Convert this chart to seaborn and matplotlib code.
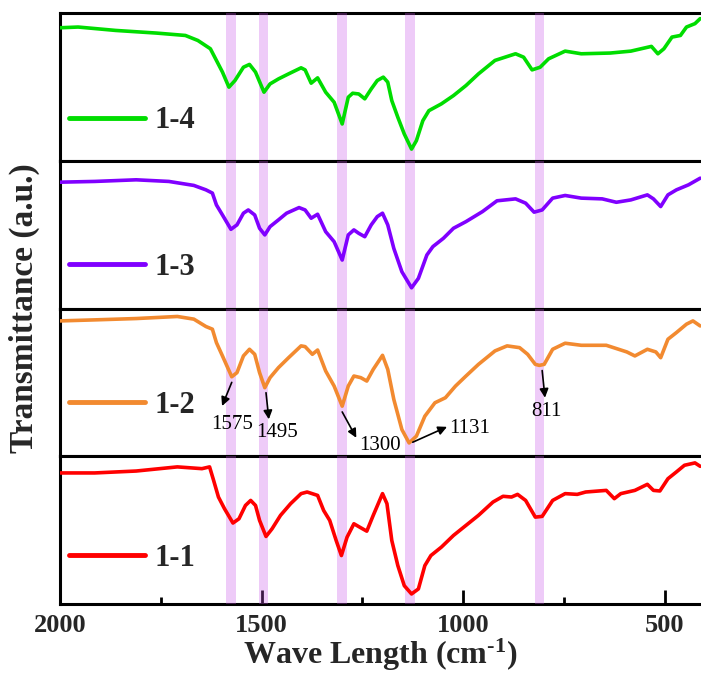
import matplotlib
matplotlib.use("Agg")
import matplotlib.pyplot as plt
from matplotlib.ticker import MultipleLocator
import pandas as pd
import seaborn as sns

# FTIR spectra, wavenumber (cm-1) vs transmittance (a.u., 0-100 inside each panel)
wn_14 = [2000, 1955, 1862, 1760, 1689, 1658, 1627, 1612, 1597, 1581, 1566, 1545, 1530, 1515,
         1494, 1479, 1458, 1433, 1402, 1392, 1377, 1361, 1341, 1320, 1300, 1285, 1274, 1259,
         1244, 1228, 1213, 1198, 1187, 1177, 1162, 1146, 1128, 1116, 1100, 1085, 1054, 1024,
         993, 962, 921, 870, 850, 829, 809, 788, 747, 707, 635, 584, 533, 517, 502, 482, 461,
         446, 425, 412]
t_14 = [90.0, 90.5, 88.2, 86.4, 84.8, 81.4, 75.8, 67.9, 60.0, 49.8, 54.3, 63.3, 65.2, 60.0,
        46.4, 52.0, 55.4, 58.8, 62.9, 61.5, 52.5, 56.1, 46.4, 39.6, 24.9, 43.0, 45.7, 45.2,
        41.9, 48.6, 54.3, 56.6, 53.2, 40.7, 29.4, 18.1, 7.9, 13.6, 27.1, 33.9, 38.5, 44.1,
        50.9, 58.8, 67.9, 72.4, 70.1, 61.5, 63.3, 69.0, 74.2, 72.4, 72.9, 74.2, 77.4, 72.4,
        75.8, 83.7, 84.8, 90.5, 92.8, 96.2]

wn_13 = [2000, 1914, 1811, 1730, 1668, 1638, 1622, 1612, 1597, 1576, 1561, 1545, 1533, 1517,
         1505, 1492, 1479, 1458, 1438, 1407, 1392, 1377, 1361, 1341, 1320, 1300, 1285, 1271,
         1259, 1244, 1228, 1213, 1200, 1187, 1172, 1152, 1128, 1111, 1090, 1075, 1049, 1024,
         993, 952, 916, 870, 845, 824, 804, 778, 747, 707, 655, 620, 584, 543, 528, 510, 492,
         471, 441, 412]
t_13 = [85.5, 86.0, 87.1, 86.0, 83.3, 80.3, 78.1, 70.1, 63.3, 53.6, 56.6, 64.5, 66.7, 63.3,
        54.3, 49.8, 55.4, 60.0, 64.5, 68.3, 66.7, 61.1, 63.8, 52.0, 45.2, 32.8, 49.8, 53.2,
        50.9, 48.6, 56.6, 62.2, 64.5, 56.6, 40.7, 24.9, 14.0, 20.4, 36.2, 41.9, 47.5, 54.3,
        58.8, 65.6, 72.9, 74.2, 71.3, 65.2, 66.7, 74.7, 76.5, 74.7, 74.2, 71.9, 73.5, 76.9,
        74.2, 69.0, 76.9, 80.3, 83.7, 88.2]

wn_12 = [2000, 1914, 1811, 1709, 1668, 1638, 1622, 1612, 1597, 1574, 1561, 1545, 1530, 1517,
         1505, 1492, 1479, 1458, 1433, 1402, 1392, 1374, 1361, 1341, 1320, 1300, 1285, 1271,
         1254, 1239, 1223, 1200, 1187, 1172, 1152, 1134, 1116, 1095, 1070, 1044, 1019, 993,
         962, 921, 891, 860, 840, 821, 811, 799, 778, 747, 707, 645, 594, 574, 543, 522, 510,
         492, 471, 446, 430, 412]
t_12 = [91.6, 92.3, 93.2, 94.6, 92.8, 87.8, 86.0, 76.9, 67.9, 53.8, 56.6, 67.9, 72.4, 69.0,
        56.6, 46.4, 53.2, 60.0, 66.7, 74.7, 74.2, 69.0, 71.9, 57.7, 47.5, 33.9, 47.5, 54.3,
        53.2, 50.9, 58.8, 68.3, 58.8, 38.5, 18.1, 9.0, 13.6, 27.1, 36.2, 39.6, 47.5, 54.3,
        62.2, 71.3, 74.7, 73.5, 69.0, 62.2, 61.5, 62.2, 72.4, 76.5, 75.1, 75.1, 70.6, 67.9,
        72.4, 70.6, 66.7, 79.2, 83.7, 89.4, 91.6, 88.2]

wn_11 = [2000, 1914, 1811, 1709, 1648, 1629, 1619, 1607, 1592, 1571, 1556, 1540, 1527, 1515,
         1505, 1489, 1474, 1453, 1428, 1402, 1387, 1361, 1346, 1331, 1315, 1302, 1288, 1271,
         1254, 1239, 1223, 1200, 1189, 1177, 1162, 1146, 1128, 1111, 1095, 1080, 1054, 1024,
         993, 962, 926, 901, 880, 865, 845, 821, 804, 778, 747, 717, 696, 645, 625, 609, 574,
         543, 528, 512, 492, 471, 451, 425, 412]
t_11 = [88.7, 88.7, 90.0, 92.8, 91.6, 92.8, 83.7, 72.4, 64.5, 54.8, 57.7, 66.7, 70.1, 66.7,
        56.6, 45.7, 50.9, 60.0, 67.9, 74.7, 75.8, 73.5, 63.3, 56.6, 43.0, 32.8, 45.2, 54.3,
        51.6, 49.3, 60.0, 74.7, 67.9, 43.0, 26.0, 12.4, 6.8, 10.2, 26.0, 32.8, 38.5, 46.4,
        53.2, 60.0, 69.0, 72.9, 72.4, 74.2, 70.1, 58.8, 59.3, 70.1, 74.7, 74.2, 75.8, 76.9,
        71.3, 74.7, 76.9, 81.0, 76.9, 76.5, 84.8, 89.4, 93.9, 95.5, 93.2]

samples = ["1-4", "1-3", "1-2", "1-1"]
colors = ["#00DD00", "#8000FF", "#F28A30", "#FF0000"]
spectra = [(wn_14, t_14), (wn_13, t_13), (wn_12, t_12), (wn_11, t_11)]
legend_y = [0.27, 0.28, 0.345, 0.31]

# marked absorption bands
bands = [1575, 1495, 1300, 1131, 811]
# (tail on curve, arrow head, text position) for the labels in the 1-2 panel
peak_notes = [
    ((1574, 50), (1598, 34), (1574, 21.5)),
    ((1489, 43), (1482, 25), (1461, 16.0)),
    ((1300, 30), (1265, 12.5), (1206, 7.5)),
    ((1125, 9.5), (1040, 19.9), (985, 18.6)),
    ((804, 58), (797, 39.6), (794, 30.0)),
]

sns.set_theme(style="ticks")
plt.rcParams["font.family"] = ["Liberation Serif", "DejaVu Serif"]
plt.rcParams["mathtext.fontset"] = "custom"
plt.rcParams["mathtext.rm"] = "Liberation Serif:bold"
plt.rcParams["mathtext.it"] = "Liberation Serif:bold"
plt.rcParams["mathtext.bf"] = "Liberation Serif:bold"

fig, axes = plt.subplots(4, 1, figsize=(7.01, 6.74), dpi=100, sharex=True)
fig.subplots_adjust(left=60 / 701, right=1.0, top=1 - 13 / 674, bottom=1 - 604 / 674, hspace=0)

for i, ax in enumerate(axes):
    wn, t = spectra[i]
    df = pd.DataFrame({"wavenumber": wn, "transmittance": t})
    for b in bands:
        ax.axvspan(b - 12, b + 12, color="#C855E8", alpha=0.3, lw=0, zorder=3)
    sns.lineplot(data=df, x="wavenumber", y="transmittance", ax=ax, color=colors[i],
                 linewidth=2.6, label=samples[i], sort=False, estimator=None, zorder=4)
    ax.set_xlim(2000, 410)
    ax.set_ylim(0, 100)
    ax.set_ylabel("")
    ax.set_xlabel("")
    ax.set_yticks([])
    for side in ["left", "top", "bottom"]:
        ax.spines[side].set_linewidth(2.2)
        ax.spines[side].set_color("black")
    ax.spines["right"].set_visible(False)
    leg = ax.legend(loc="center left", bbox_to_anchor=(0.014, legend_y[i]), frameon=False,
                    borderpad=0, borderaxespad=0, handlelength=2.5, handletextpad=0.3,
                    prop={"family": "Liberation Serif", "weight": "bold", "size": 22})
    for h in leg.get_lines():
        h.set_linewidth(3.5)
    if i < 3:
        ax.tick_params(axis="x", which="both", length=0)

bottom = axes[-1]
bottom.xaxis.set_major_locator(MultipleLocator(500))
bottom.xaxis.set_minor_locator(MultipleLocator(250))
bottom.tick_params(axis="x", which="major", direction="in", length=10, width=2,
                   labelsize=19, pad=7, color="black")
bottom.tick_params(axis="x", which="minor", direction="in", length=5, width=2, color="black")
for lbl in bottom.get_xticklabels():
    lbl.set_fontweight("bold")
bottom.set_xlabel("Wave Length (cm$^{\u2010 1}$)", fontsize=23, fontweight="bold")
bottom.xaxis.label.set_va("bottom")
bottom.xaxis.set_label_coords(0.5, -(673 - 604) / 148)

ax12 = axes[2]
for (tail, head, txt), b in zip(peak_notes, bands):
    ax12.annotate("", xy=head, xytext=tail,
                  arrowprops=dict(arrowstyle="-|>", color="black", lw=1.2,
                                  mutation_scale=13, shrinkA=0, shrinkB=0), zorder=5)
    ax12.text(txt[0], txt[1], str(b), ha="center", va="center", fontsize=15,
              color="black", zorder=5)

fig.text(24 / 701, 0.5 + (674 / 2 - 308) / 674, "Transmittance (a.u.)", rotation=90,
         ha="center", va="center", fontsize=24, fontweight="bold")

fig.savefig("out.png", dpi=100)
